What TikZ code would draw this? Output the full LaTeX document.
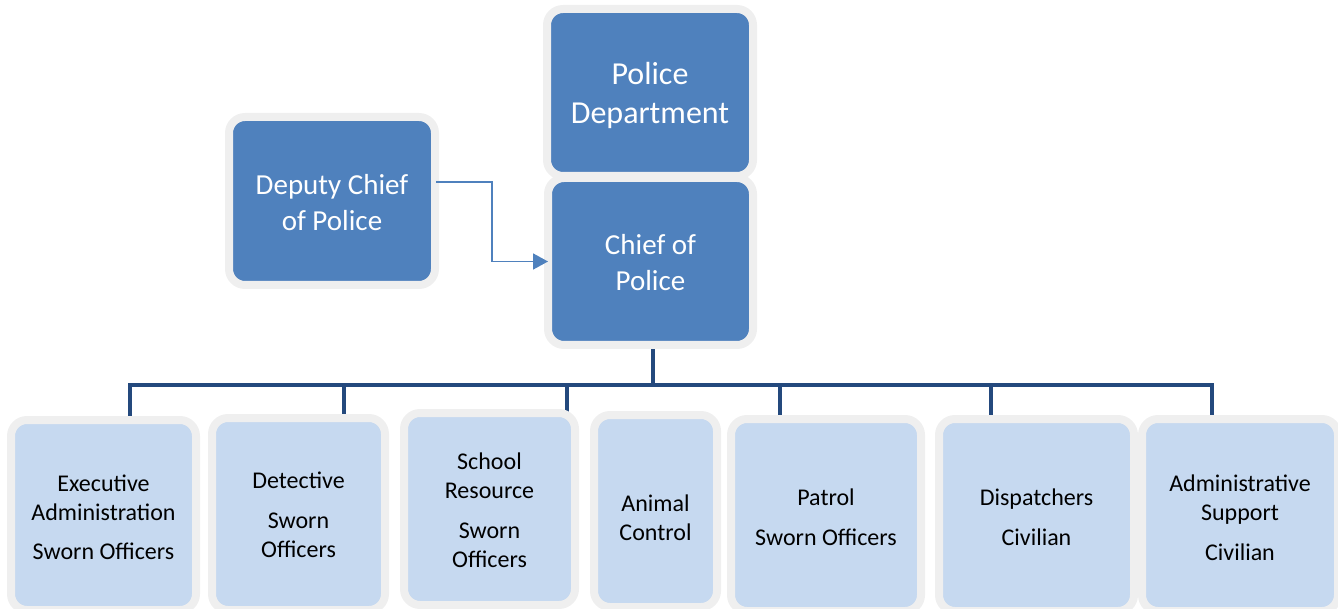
\documentclass[tikz,border=0pt]{standalone}
\usepackage{fontspec}
\setmainfont{Carlito}
\usetikzlibrary{arrows.meta}
\definecolor{topblue}{HTML}{4F81BD}
\definecolor{lightblue}{HTML}{C6D9F0}
\definecolor{rimgray}{HTML}{EFEFEF}
\definecolor{treeblue}{HTML}{24497D}
\pgfdeclarelayer{background}
\pgfsetlayers{background,main}
\tikzset{
  box/.style={draw=rimgray, line width=8pt, rounded corners=16pt, inner sep=0pt, outer sep=0pt},
  topbox/.style={box, fill=topblue},
  lowbox/.style={box, fill=lightblue},
  toptxt/.style={align=center, text=white, inner sep=0pt},
  lowtxt/.style={align=center, text=black, inner sep=0pt, font=\fontsize{24}{29}\selectfont},
  tree/.style={draw=treeblue, line width=4pt},
  feed/.style={draw=topblue, line width=1.7pt, -{Triangle[length=15pt,width=16pt]}}
}
\begin{document}
\begin{tikzpicture}[x=1pt,y=-1pt]
\useasboundingbox (0,0) rectangle (1338,609);
% top boxes
\node[topbox, minimum width=206pt, minimum height=167pt,
  label={[toptxt, font=\fontsize{32}{39}\selectfont, yshift=-3pt]center:{Police\\Department}}] (dept) at (650,92.5) {};
\node[topbox, minimum width=205pt, minimum height=167pt,
  label={[toptxt, font=\fontsize{29}{36}\selectfont, yshift=-1pt]center:{Chief of\\Police}}] (chief) at (650.5,261.5) {};
\node[topbox, minimum width=206pt, minimum height=168pt,
  label={[toptxt, font=\fontsize{29}{36}\selectfont, yshift=-1.5pt]center:{Deputy Chief\\of Police}}] (deputy) at (332,201) {};
% bottom boxes
\node[lowbox, minimum width=185pt, minimum height=190pt,
  label={[lowtxt, yshift=-2pt]center:{Executive\\Administration\\[10pt]Sworn Officers}}] (exec) at (103.5,515) {};
\node[lowbox, minimum width=173pt, minimum height=192pt,
  label={[lowtxt, yshift=-1pt]center:{Detective\\[11pt]Sworn\\Officers}}] (det) at (298.5,514) {};
\node[lowbox, minimum width=171pt, minimum height=192pt,
  label={[lowtxt, yshift=-1.5pt]center:{School\\Resource\\[11pt]Sworn\\Officers}}] (school) at (489.5,509) {};
\node[lowbox, minimum width=123pt, minimum height=192pt,
  label={[lowtxt, yshift=-7pt]center:{Animal\\Control}}] (animal) at (655.5,511) {};
\node[lowbox, minimum width=190pt, minimum height=192pt,
  label={[lowtxt, yshift=-2pt]center:{Patrol\\[11pt]Sworn Officers}}] (patrol) at (826,515) {};
\node[lowbox, minimum width=195pt, minimum height=192pt,
  label={[lowtxt, yshift=-2pt]center:{Dispatchers\\[11pt]Civilian}}] (disp) at (1036.5,515) {};
\node[lowbox, minimum width=196pt, minimum height=192pt,
  label={[lowtxt, yshift=-3pt]center:{Administrative\\Support\\[11pt]Civilian}}] (admin) at (1240,515) {};
% tree connectors (behind boxes)
\coordinate (bar) at (653,385);
\begin{pgfonlayer}{background}
\draw[tree] ([xshift=2.5pt]chief.south) -- (bar);
\draw[tree] ([xshift=26.5pt]exec.north) |- (bar) -| ([xshift=-28pt]admin.north);
\draw[tree] ([xshift=45.5pt]det.north) -- ([xshift=45.5pt]det.north |- bar);
\draw[tree] ([xshift=77.5pt]school.north) -- ([xshift=77.5pt]school.north |- bar);
\draw[tree] ([xshift=-46pt]patrol.north) -- ([xshift=-46pt]patrol.north |- bar);
\draw[tree] ([xshift=-45.5pt]disp.north) -- ([xshift=-45.5pt]disp.north |- bar);
\end{pgfonlayer}
% deputy feed arrow
\draw[feed] ([xshift=1pt,yshift=19pt]deputy.east) -- ++(56,0) |- (chief.west);
\end{tikzpicture}
\end{document}
